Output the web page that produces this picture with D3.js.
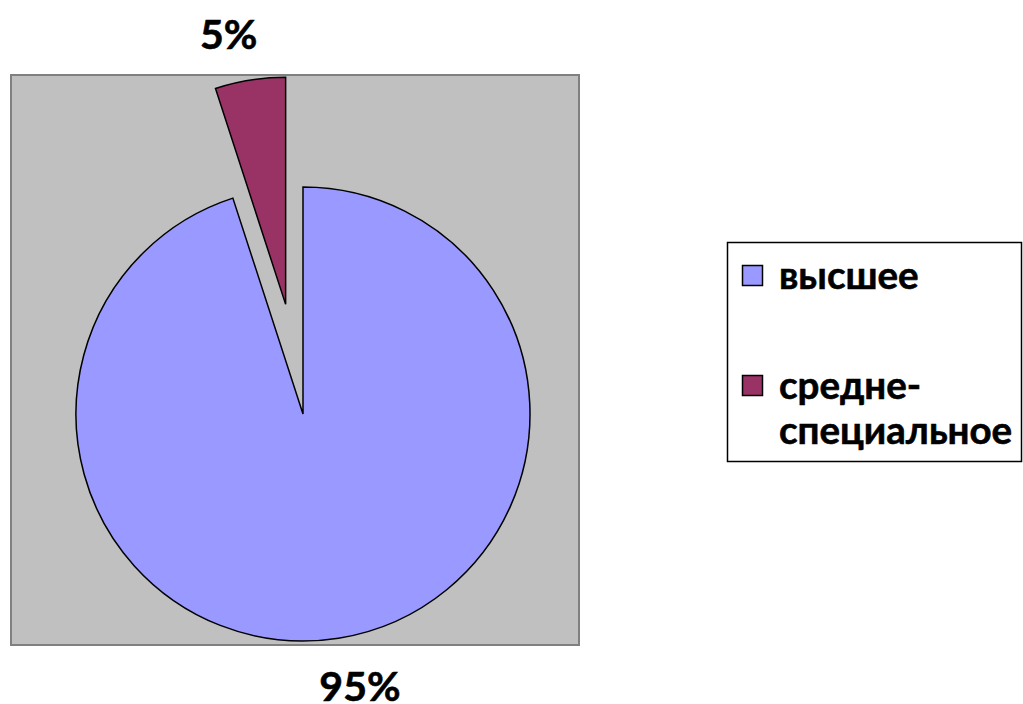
<!DOCTYPE html>
<html>
<head>
<meta charset="utf-8">
<script src="https://cdn.jsdelivr.net/npm/d3@7"></script>
<style>
  body { margin: 0; background: #fff; }
  text { font-family: Lato, "Open Sans", sans-serif; font-weight: bold; fill: #000; stroke: #000; stroke-width: 0.6px; }
</style>
</head>
<body>
<div id="chart"></div>
<script>

// data
let categories = ["высшее", "средне-специальное"];
let legendLines = [["высшее"], ["средне-", "специальное"]];
let values = [95, 5];
let colors = ["#9999FF", "#993366"];

let width = 1023, height = 704;
let plot = { x: 11, y: 75, w: 568, h: 570 };
let cx = 303, cy = 414, radius = 227;
let explodeIdx = 1, explodeDist = 111;

let svg = d3.select("#chart")
    .append("svg")
    .attr("width", width)
    .attr("height", height);

svg.append("rect")
    .attr("x", plot.x)
    .attr("y", plot.y)
    .attr("width", plot.w)
    .attr("height", plot.h)
    .attr("fill", "#C0C0C0")
    .attr("stroke", "#808080")
    .attr("stroke-width", 2);

let pie = d3.pie().sort(null).value(function(d) { return d; });
let arcs = pie(values);
let arc = d3.arc().innerRadius(0).outerRadius(radius);

let total = d3.sum(values);

function offsetOf(d, i) {
    let mid = (d.startAngle + d.endAngle) / 2;
    let dist = i === explodeIdx ? explodeDist : 0;
    return [Math.sin(mid) * dist, -Math.cos(mid) * dist];
}

let g = svg.append("g")
    .attr("transform", "translate(" + cx + "," + cy + ")");

g.selectAll(".slice")
    .data(arcs)
    .enter().append("path")
    .attr("class", "slice")
    .attr("d", arc)
    .attr("transform", function(d, i) {
        let o = offsetOf(d, i);
        return "translate(" + o[0] + "," + o[1] + ")";
    })
    .attr("fill", function(d, i) { return colors[i]; })
    .attr("stroke", "#000")
    .attr("stroke-width", 1.5)
    .attr("stroke-linejoin", "miter");

// percentage labels, outside end
let labelR = radius + 50;
g.selectAll(".pct")
    .data(arcs)
    .enter().append("text")
    .attr("class", "pct")
    .attr("x", function(d, i) {
        let a = (d.startAngle + d.endAngle) / 2 - 0.05;
        return offsetOf(d, i)[0] + Math.sin(a) * labelR;
    })
    .attr("y", function(d, i) {
        let a = (d.startAngle + d.endAngle) / 2 - 0.05;
        return offsetOf(d, i)[1] - Math.cos(a) * labelR;
    })
    .attr("text-anchor", "middle")
    .attr("dominant-baseline", "central")
    .style("font-size", "41px")
    .text(function(d) { return Math.round(d.data / total * 100) + "%"; });

// legend
let legend = svg.append("g");
legend.append("rect")
    .attr("x", 727.5)
    .attr("y", 242.5)
    .attr("width", 294)
    .attr("height", 219)
    .attr("fill", "#fff")
    .attr("stroke", "#000")
    .attr("stroke-width", 1.5);

let itemY = [265, 375];
let items = legend.selectAll(".item")
    .data(categories)
    .enter().append("g")
    .attr("class", "item")
    .attr("transform", function(d, i) { return "translate(742," + itemY[i] + ")"; });

items.append("rect")
    .attr("x", 0.5)
    .attr("y", 0.5)
    .attr("width", 20)
    .attr("height", 20)
    .attr("fill", function(d, i) { return colors[i]; })
    .attr("stroke", "#000")
    .attr("stroke-width", 1.5);

items.each(function(d, i) {
    let t = d3.select(this).append("text")
        .attr("x", 37)
        .attr("y", 24)
        .style("font-size", "38.5px");
    legendLines[i].forEach(function(line, j) {
        t.append("tspan")
            .attr("x", 37)
            .attr("dy", j === 0 ? 0 : 45)
            .text(line);
    });
});

</script>
</body>
</html>
